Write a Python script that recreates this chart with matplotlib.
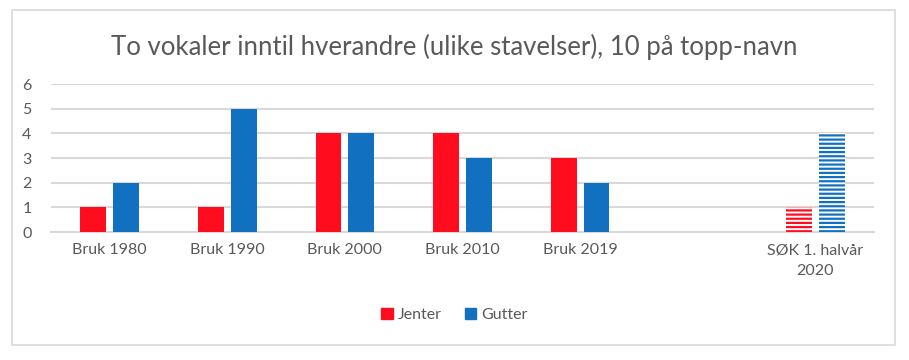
import numpy as np
import matplotlib
matplotlib.use("Agg")
from matplotlib import pyplot as plt
from matplotlib.patches import Rectangle, Patch

categories = ["Bruk 1980", "Bruk 1990", "Bruk 2000", "Bruk 2010", "Bruk 2019", "",
              "SØK 1. halvår\n2020"]
jenter = [1, 1, 4, 4, 3, np.nan, 1]
gutter = [2, 5, 4, 3, 2, np.nan, 4]
hatched = [False, False, False, False, False, False, True]
yticks = [0, 1, 2, 3, 4, 5, 6]

RED = "#FF0D1F"
BLUE = "#1170BF"
GREY = "#595959"
GRID = "#D9D9D9"

plt.rcParams["font.family"] = ["Lato", "DejaVu Sans"]
plt.rcParams["hatch.linewidth"] = 1.6

fig = plt.figure(figsize=(9.09, 3.6), dpi=100)
ax = fig.add_axes([51 / 909, 1 - 232 / 360, 823 / 909, 148 / 360])

x = np.arange(len(categories))
w = 0.22
off = 0.14
for i in range(len(categories)):
    if np.isnan(jenter[i]):
        continue
    if hatched[i]:
        ax.bar(x[i] - off, jenter[i], w, color="white", edgecolor=RED,
               hatch="----", linewidth=0, zorder=3)
        ax.bar(x[i] + off, gutter[i], w, color="white", edgecolor=BLUE,
               hatch="----", linewidth=0, zorder=3)
    else:
        ax.bar(x[i] - off, jenter[i], w, color=RED, zorder=3)
        ax.bar(x[i] + off, gutter[i], w, color=BLUE, zorder=3)

ax.set_xlim(-0.5, len(categories) - 0.5)
ax.set_ylim(0, 6)
ax.set_yticks(yticks)
ax.set_xticks(x)
ax.set_xticklabels(categories, fontsize=11.5, color=GREY, linespacing=1.6)
ax.tick_params(axis="y", labelsize=11.5, colors=GREY, length=0, pad=14)
ax.tick_params(axis="x", length=0, pad=8)
ax.grid(axis="y", color=GRID, linewidth=1.5, zorder=0)
for s in ["left", "right", "top"]:
    ax.spines[s].set_visible(False)
ax.spines["bottom"].set_color(GRID)
ax.spines["bottom"].set_linewidth(1.5)

fig.text(0.5, 1 - 47 / 360, "To vokaler inntil hverandre (ulike stavelser), 10 på topp-navn",
         ha="center", va="center", fontsize=18.5, color=GREY)

handles = [Patch(color=RED, label="Jenter"), Patch(color=BLUE, label="Gutter")]
fig.legend(handles=handles, loc="center", bbox_to_anchor=(0.5, 1 - 315 / 360), ncol=2,
           frameon=False, fontsize=11.5, labelcolor=GREY, handlelength=0.7,
           handleheight=0.7, handletextpad=0.3, columnspacing=1.5)

fig.patches.append(Rectangle((12 / 909, 1 - 345 / 360), 883 / 909, 335 / 360,
                             transform=fig.transFigure, fill=False,
                             edgecolor=GRID, linewidth=1.2))

fig.savefig("out.png", dpi=100)
